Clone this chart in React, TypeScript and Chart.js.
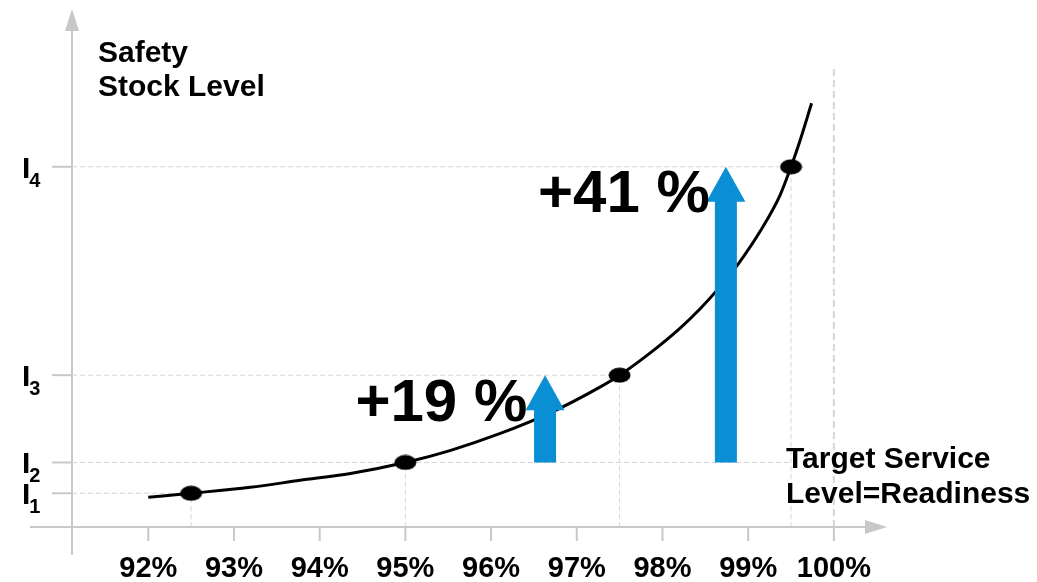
import React, { useEffect, useRef } from "react";
import { Chart, registerables } from "chart.js";

Chart.register(...registerables);

// ---- data ----
const xTicks = [92, 93, 94, 95, 96, 97, 98, 99, 100];
const xTickLabels = ["92%", "93%", "94%", "95%", "96%", "97%", "98%", "99%", "100%"];

const levelNames = ["1", "2", "3", "4"];
const levelX = [92.5, 95, 97.5, 99.5];
const levelY = [34, 65, 153, 363];
const levelGuideEndX = [92.5, 99.5, 97.5, 99.5];

const curveX = [92.0, 92.5, 93.19, 93.77, 94.36, 95.0, 95.52, 96.1, 96.69, 97.27, 97.5, 97.85, 98.2, 98.44, 98.67, 98.9, 99.14, 99.37, 99.5, 99.6, 99.74];
const curveY = [30, 34, 40, 47, 54, 65, 77, 94, 115, 141, 153, 175, 200, 220, 242, 267, 298, 334, 363, 388, 427];

const readinessX = 100;
const readinessTop = 464;

const arrowX = [96.63, 98.74];
const arrowFrom = [65, 65];
const arrowTo = [153, 363];

const annotationText = ["+19 %", "+41 %"];
const annotationX = [95.42, 97.55];
const annotationY = [107, 317];

const yTitle = ["Safety", "Stock Level"];
const xTitle = ["Target Service", "Level=Readiness"];

const X_MIN = 91.11;
const X_MAX = 100.62;
const Y_MIN = 0;
const Y_MAX = 522;

const FONT = '"Liberation Sans", Arial, sans-serif';
const AXIS_COLOR = "#c8c8c8";
const GUIDE_COLOR = "#d6d6d6";
const BLUE = "#0a8fd5";

function makeMarker(): HTMLCanvasElement {
  const c = document.createElement("canvas");
  c.width = 23;
  c.height = 16;
  const g = c.getContext("2d")!;
  g.fillStyle = "#000";
  g.beginPath();
  g.ellipse(11.5, 8, 11, 7.5, 0, 0, Math.PI * 2);
  g.fill();
  return c;
}

const axesPlugin = {
  id: "axesPlugin",
  beforeDatasetsDraw(chart: any) {
    const { ctx, chartArea: ca, scales } = chart;
    const xs = scales.x;
    const ys = scales.y;
    const x0 = xs.getPixelForValue(X_MIN);
    const y0 = ys.getPixelForValue(Y_MIN);
    ctx.save();
    ctx.strokeStyle = AXIS_COLOR;
    ctx.fillStyle = AXIS_COLOR;
    ctx.lineWidth = 2;
    // x axis
    ctx.beginPath();
    ctx.moveTo(x0 - 42, y0);
    ctx.lineTo(ca.right - 18, y0);
    ctx.stroke();
    ctx.beginPath();
    ctx.moveTo(ca.right, y0);
    ctx.lineTo(ca.right - 22, y0 - 7);
    ctx.lineTo(ca.right - 22, y0 + 7);
    ctx.closePath();
    ctx.fill();
    // y axis
    ctx.beginPath();
    ctx.moveTo(x0, y0 + 28);
    ctx.lineTo(x0, ca.top + 18);
    ctx.stroke();
    ctx.beginPath();
    ctx.moveTo(x0, ca.top);
    ctx.lineTo(x0 - 7, ca.top + 22);
    ctx.lineTo(x0 + 7, ca.top + 22);
    ctx.closePath();
    ctx.fill();
    // x ticks
    xTicks.forEach((v) => {
      const px = xs.getPixelForValue(v);
      ctx.beginPath();
      ctx.moveTo(px, y0);
      ctx.lineTo(px, y0 + 14);
      ctx.stroke();
    });
    // y ticks
    levelY.forEach((v) => {
      const py = ys.getPixelForValue(v);
      ctx.beginPath();
      ctx.moveTo(x0 - 20, py);
      ctx.lineTo(x0, py);
      ctx.stroke();
    });
    // x tick labels
    ctx.fillStyle = "#000";
    ctx.font = `bold 29px ${FONT}`;
    ctx.textAlign = "center";
    ctx.textBaseline = "alphabetic";
    xTicks.forEach((v, i) => {
      ctx.fillText(xTickLabels[i], xs.getPixelForValue(v), y0 + 50);
    });
    // y tick labels (I with subscript)
    ctx.textAlign = "left";
    levelY.forEach((v, i) => {
      const py = ys.getPixelForValue(v);
      ctx.font = `bold 30px ${FONT}`;
      ctx.fillText("I", 22, py + 11);
      const w = ctx.measureText("I").width;
      ctx.font = `bold 20px ${FONT}`;
      ctx.fillText(levelNames[i], 22 + w - 1, py + 20);
    });
    ctx.restore();
  },
  afterDatasetsDraw(chart: any) {
    const { ctx, chartArea: ca, scales } = chart;
    const xs = scales.x;
    const ys = scales.y;
    ctx.save();
    // arrows
    ctx.fillStyle = BLUE;
    arrowX.forEach((v, i) => {
      const px = xs.getPixelForValue(v);
      const pb = ys.getPixelForValue(arrowFrom[i]);
      const pt = ys.getPixelForValue(arrowTo[i]);
      const shaft = 11;
      const head = 19.5;
      const headLen = 35;
      ctx.beginPath();
      ctx.moveTo(px - shaft, pb);
      ctx.lineTo(px - shaft, pt + headLen);
      ctx.lineTo(px - head, pt + headLen);
      ctx.lineTo(px, pt);
      ctx.lineTo(px + head, pt + headLen);
      ctx.lineTo(px + shaft, pt + headLen);
      ctx.lineTo(px + shaft, pb);
      ctx.closePath();
      ctx.fill();
    });
    // annotation texts
    ctx.fillStyle = "#000";
    ctx.font = `bold 60px ${FONT}`;
    ctx.textAlign = "center";
    ctx.textBaseline = "alphabetic";
    annotationText.forEach((t, i) => {
      ctx.fillText(t, xs.getPixelForValue(annotationX[i]), ys.getPixelForValue(annotationY[i]));
    });
    // axis titles
    ctx.font = `bold 30px ${FONT}`;
    ctx.textAlign = "left";
    yTitle.forEach((t, i) => {
      ctx.fillText(t, ca.left + 26, ca.top + 53 + i * 34);
    });
    xTitle.forEach((t, i) => {
      ctx.fillText(t, ca.right - 101, ca.bottom - 59 + i * 35);
    });
    ctx.restore();
  },
};

export default function App() {
  const ref = useRef<HTMLCanvasElement | null>(null);

  useEffect(() => {
    if (!ref.current) return;
    const marker = makeMarker();

    const guideSets: any[] = [];
    levelY.forEach((v, i) => {
      guideSets.push({
        data: [
          { x: X_MIN, y: v },
          { x: levelGuideEndX[i], y: v },
        ],
      });
      guideSets.push({
        data: [
          { x: levelX[i], y: Y_MIN },
          { x: levelX[i], y: v },
        ],
      });
    });

    const datasets: any[] = [
      {
        label: "levels",
        data: levelX.map((x, i) => ({ x, y: levelY[i] })),
        pointStyle: marker,
        pointRadius: 8,
        showLine: false,
      },
      {
        label: "curve",
        data: curveX.map((x, i) => ({ x, y: curveY[i] })),
        showLine: true,
        borderColor: "#000",
        borderWidth: 3,
        pointRadius: 0,
        cubicInterpolationMode: "monotone",
        fill: false,
      },
      {
        label: "readiness",
        data: [
          { x: readinessX, y: Y_MIN },
          { x: readinessX, y: readinessTop },
        ],
        showLine: true,
        borderColor: GUIDE_COLOR,
        borderWidth: 2,
        borderDash: [7, 4],
        pointRadius: 0,
      },
      ...guideSets.map((g, i) => ({
        label: "guide" + i,
        data: g.data,
        showLine: true,
        borderColor: GUIDE_COLOR,
        borderWidth: 1,
        borderDash: [5, 3],
        pointRadius: 0,
      })),
    ];

    const chart = new Chart(ref.current, {
      type: "scatter",
      data: { datasets },
      options: {
        animation: false,
        responsive: false,
        maintainAspectRatio: false,
        layout: { padding: { left: 72, right: 150, top: 5, bottom: 55 } },
        plugins: { legend: { display: false }, tooltip: { enabled: false }, title: { display: false } },
        scales: {
          x: { type: "linear", min: X_MIN, max: X_MAX, display: false },
          y: { type: "linear", min: Y_MIN, max: Y_MAX, display: false },
        },
        elements: { line: { tension: 0 } },
      },
      plugins: [axesPlugin],
    });
    return () => chart.destroy();
  }, []);

  return (
    <div style={{ position: "absolute", left: 0, top: 0, width: 1037, height: 582, background: "#fff" }}>
      <canvas ref={ref} width={1037} height={582} style={{ display: "block" }} />
    </div>
  );
}
